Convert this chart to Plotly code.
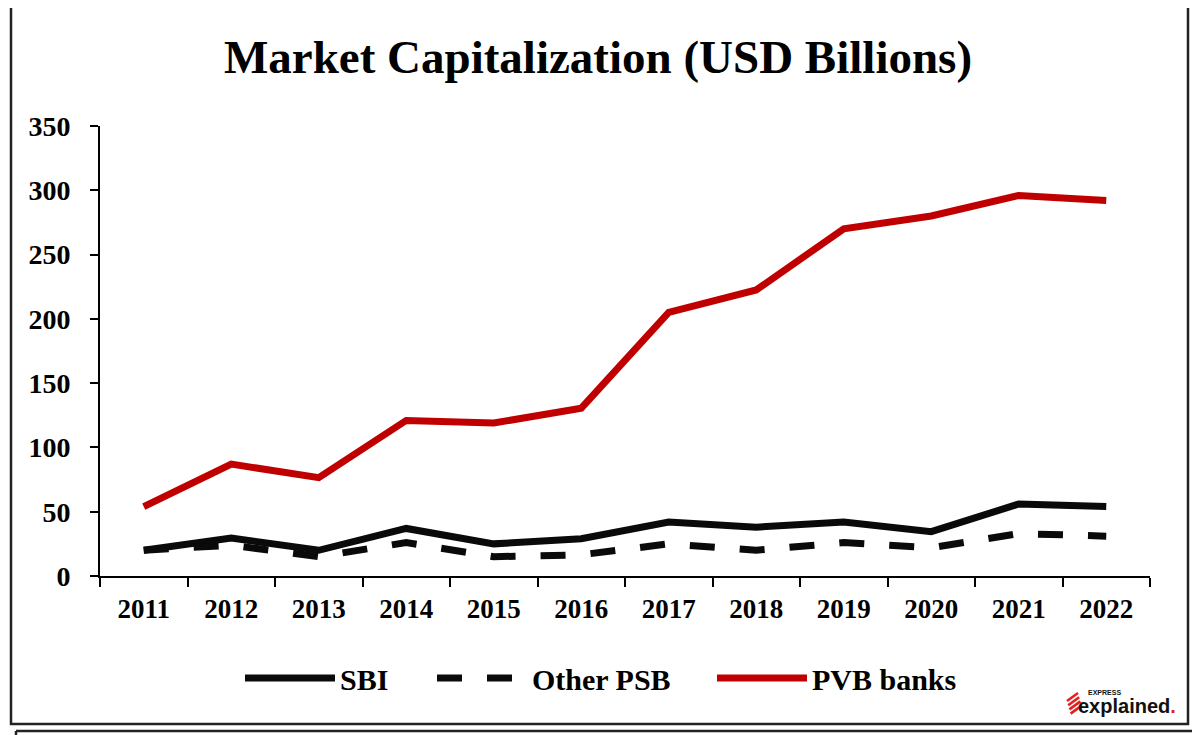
import plotly.graph_objects as go

years = ["2011", "2012", "2013", "2014", "2015", "2016", "2017", "2018", "2019", "2020", "2021", "2022"]
sbi = [20, 29.5, 20, 37, 25, 29, 42, 38, 42, 34.5, 56, 54]
other_psb = [20, 24, 15, 26, 15, 16.5, 25, 20, 26, 22, 33, 31]
pvb_banks = [54, 87, 76.5, 121, 119, 130.5, 205, 222.5, 270, 280, 296, 292]
y_ticks = [0, 50, 100, 150, 200, 250, 300, 350]

SERIF = "Liberation Serif"
RED = "#C00000"
BLACK = "#0a0a0a"

# page body margin offsets the figure by S px
S = 8
W, H = 1200 - S, 735 - S
# plot area in reference pixel coordinates
X0, X1, Y0, Y1 = 100, 1150, 126, 576
L, T = X0 - S, Y0 - S
R, B = W - (X1 - S), H - (Y1 - S)
pw, ph = X1 - X0, Y1 - Y0


def px(x):
    return (x - X0) / pw


def py(y):
    return (Y1 - y) / ph


fig = go.Figure()
fig.add_trace(go.Scatter(x=years, y=sbi, name="SBI", mode="lines",
                         line=dict(color=BLACK, width=7), legend="legend"))
fig.add_trace(go.Scatter(x=years, y=other_psb, name="Other PSB", mode="lines",
                         line=dict(color=BLACK, width=7, dash="25px,25px"), legend="legend2"))
fig.add_trace(go.Scatter(x=years, y=pvb_banks, name="PVB banks", mode="lines",
                         line=dict(color=RED, width=7), legend="legend3"))

shapes = [
    dict(type="rect", xref="paper", yref="paper", x0=px(11), x1=px(1188), y0=py(4), y1=py(724),
         line=dict(color="#222", width=2.5), layer="below"),
    dict(type="line", xref="paper", yref="paper", x0=px(16), x1=px(1200), y0=py(731), y1=py(731),
         line=dict(color="#222", width=2.5)),
    dict(type="line", xref="paper", yref="paper", x0=px(16), x1=px(16), y0=py(731), y1=py(740),
         line=dict(color="#222", width=2.5)),
]
for i in range(4):
    yy = 698 + i * 4.2
    shapes.append(dict(type="line", xref="paper", yref="paper",
                       x0=px(1067 + i * 1.2), y0=py(yy + 3), x1=px(1078 + i * 1.2), y1=py(yy - 5),
                       line=dict(color="#e0221f", width=2.6)))

annotations = [
    dict(text="<b>EXPRESS</b>", x=px(1086), y=py(692), xref="paper", yref="paper", xanchor="left",
         yanchor="middle", showarrow=False,
         font=dict(family="Liberation Sans", size=7, color="#111")),
    dict(text="<b>explained</b><b><span style='color:#e0221f'>.</span></b>", x=px(1076), y=py(706),
         xref="paper", yref="paper", xanchor="left", yanchor="middle", showarrow=False,
         font=dict(family="Liberation Sans", size=20, color="#111")),
]

legend_common = dict(orientation="h", xanchor="left", yanchor="middle", y=py(678),
                     font=dict(family=SERIF, size=30, color="black", weight="bold"),
                     itemwidth=90, bgcolor="rgba(0,0,0,0)", borderwidth=0)

fig.update_layout(
    width=W, height=H,
    margin=dict(l=L, r=R, t=T, b=B),
    paper_bgcolor="white", plot_bgcolor="white",
    title=dict(text="<b>Market Capitalization (USD Billions)</b>", x=px(598), xanchor="center",
               xref="paper", y=1 - (57 - S) / H, yanchor="middle",
               font=dict(family=SERIF, size=47, color="black")),
    font=dict(family=SERIF, color="black"),
    xaxis=dict(type="category", range=[-0.5, 11.5], tickson="boundaries", ticks="outside",
               ticklen=9, tickwidth=2, tickcolor="black", showline=True, linecolor="black",
               linewidth=2, showgrid=False, zeroline=False, ticklabelstandoff=8,
               tickfont=dict(family=SERIF, size=27, color="black", weight="bold")),
    yaxis=dict(range=[0, 350], tickvals=y_ticks, ticks="outside", ticklen=8, tickwidth=2,
               tickcolor="black", showline=True, linecolor="black", linewidth=2,
               showgrid=False, zeroline=False, ticklabelstandoff=14,
               tickfont=dict(family=SERIF, size=28, color="black", weight="bold")),
    legend=dict(legend_common, x=px(240)),
    legend2=dict(legend_common, x=px(432)),
    legend3=dict(legend_common, x=px(712)),
    shapes=shapes,
    annotations=annotations,
    showlegend=True,
)

fig.write_html("out.html")
